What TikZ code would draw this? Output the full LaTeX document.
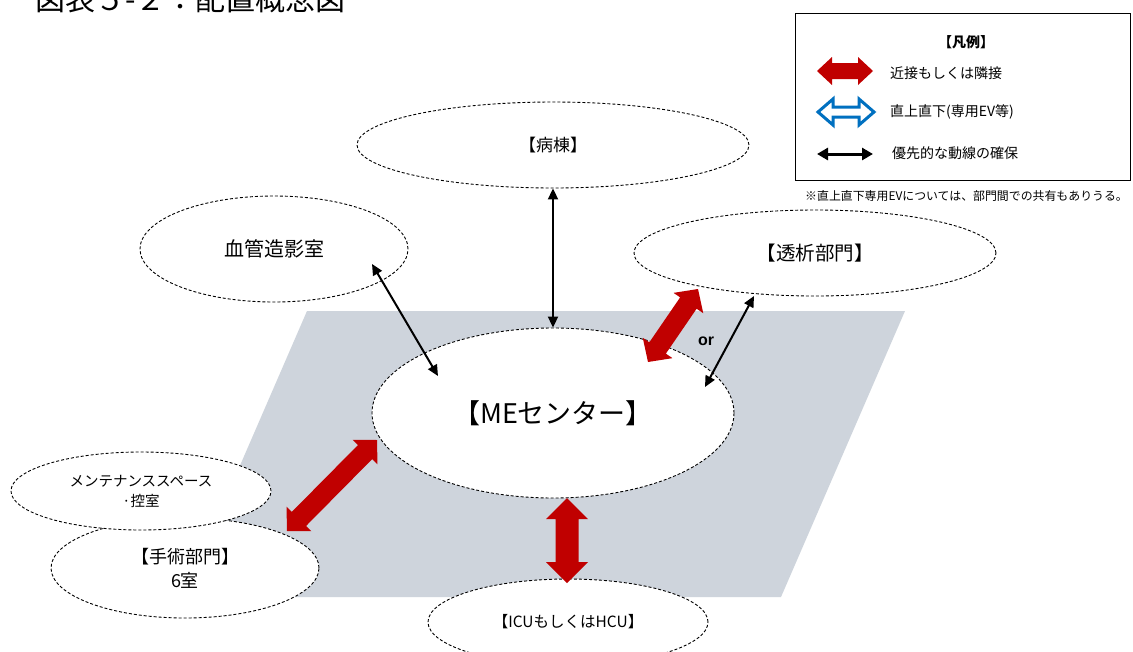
\documentclass[tikz,border=0pt]{standalone}
\usepackage{fontspec}
\setmainfont{Noto Sans CJK JP}
\newfontfamily\arialfont{Liberation Sans}
\usetikzlibrary{shapes.geometric,arrows.meta,calc}
\definecolor{mered}{RGB}{192,0,0}
\definecolor{plane}{RGB}{206,212,220}
\definecolor{evblue}{RGB}{0,112,192}
\newcommand\fsz[1]{\fontsize{#1}{#1}\selectfont}
% block double arrow: style, A, B, head length, head half width, shaft half width
\newcommand\blkarrow[6]{%
  \coordinate (ba-h1) at ($(#2)!#4!(#3)$);
  \coordinate (ba-h2) at ($(#3)!#4!(#2)$);
  \path[#1] (#2) -- ($(ba-h1)!#5!90:(#3)$) -- ($(ba-h1)!#6!90:(#3)$)
    -- ($(ba-h2)!#6!90:(#3)$) -- ($(ba-h2)!#5!90:(#3)$) -- (#3)
    -- ($(ba-h2)!#5!-90:(#3)$) -- ($(ba-h2)!#6!-90:(#3)$)
    -- ($(ba-h1)!#6!-90:(#3)$) -- ($(ba-h1)!#5!-90:(#3)$) -- cycle;
}
\tikzset{
  ell/.style={ellipse, draw, dash pattern=on 3pt off 2pt, line width=0.9pt, fill=white, inner sep=0pt, align=center},
  link/.style={line width=2pt, {Triangle[length=11pt,width=10pt]}-{Triangle[length=11pt,width=10pt]}},
  leglink/.style={line width=3pt, {Triangle[length=11pt,width=12pt]}-{Triangle[length=11pt,width=12pt]}},
  redblk/.style={fill=mered},
  blueblk/.style={draw=evblue, line width=3pt, fill=white, line join=miter},
  legtext/.style={anchor=west, font=\fsz{14}, inner sep=0pt}
}
\begin{document}
\begin{tikzpicture}[x=1pt, y=-1pt]
\useasboundingbox (0,0) rectangle (1133,651);
\fill[white] (0,0) rectangle (1133,651);

% title (cut at the top edge, as in the reference)
\node[anchor=base west, font=\fsz{30}, inner sep=0pt] (title) at (35,10) {図表５-２：配置概念図};

% floor plane
\fill[plane] (307,311) -- (905,311) -- (781,597) -- (183,597) -- cycle;

% ellipses
\node[ell, minimum width=392pt, minimum height=86pt, font=\fsz{17}] (bt) at (553,145) {【病棟】};
\node[ell, minimum width=268pt, minimum height=106pt, font=\fsz{20}] (angio) at (274,249) {血管造影室};
\node[ell, minimum width=362pt, minimum height=86pt, font=\fsz{19.5}] (dial) at (815,253) {【透析部門】};
\node[ell, minimum width=362pt, minimum height=170pt, font=\fsz{27}] (me) at (553,413) {【MEセンター】};
\node[ell, minimum width=268pt, minimum height=100pt, font=\fontsize{18}{24}\selectfont] (ope) at (185,568) {【手術部門】\\6室};
\node[ell, minimum width=260pt, minimum height=78pt, font=\fontsize{14.5}{20}\selectfont] (mnt) at (141,491) {メンテナンススペース\\·控室};
\node[ell, minimum width=280pt, minimum height=86pt, font=\fsz{15.5}] (icu) at (568,622) {【ICUもしくはHCU】};

% black connectors
\coordinate (angioE) at (372,264);
\coordinate (meAngio) at (438,376);
\coordinate (dialE) at (754,296);
\coordinate (meDial) at (705,387);
\draw[link] (bt.south) -- (me.north);
\draw[link] (angioE) -- (meAngio);
\draw[link] (dialE) -- (meDial);

% red block connectors
\coordinate (dialR) at (698,289);
\coordinate (meDialR) at (648,362);
\coordinate (meOpe) at (377,440);
\coordinate (opeR) at (287,531);
\coordinate (meIcu) at (567,498);
\coordinate (icuR) at (567,583);
\blkarrow{redblk}{meDialR}{dialR}{17pt}{18pt}{10pt}
\blkarrow{redblk}{meOpe}{opeR}{17pt}{17.5pt}{10pt}
\blkarrow{redblk}{meIcu}{icuR}{21pt}{21pt}{11.5pt}

\node[font=\arialfont\bfseries\fsz{16}] (or) at (706,341) {or};

% legend
\node[draw, line width=1pt, minimum width=335pt, minimum height=167pt, anchor=north west, inner sep=0pt] (legend) at (795,13) {};
\node[font=\bfseries\fsz{14}] (legtitle) at (966,42) {【凡例】};
\coordinate (l1a) at (817,71);
\coordinate (l1b) at (873,71);
\blkarrow{redblk}{l1a}{l1b}{15pt}{14pt}{8pt}
\coordinate (l2a) at (818,112);
\coordinate (l2b) at (874,112);
\blkarrow{blueblk}{l2a}{l2b}{15pt}{13pt}{5pt}
\coordinate (l3a) at (817,154);
\coordinate (l3b) at (873,154);
\draw[leglink] (l3a) -- (l3b);
\node[legtext] (t1) at (890,73) {近接もしくは隣接};
\node[legtext] (t2) at (890,112) {直上直下(専用EV等)};
\node[legtext] (t3) at (892,153) {優先的な動線の確保};
\node[anchor=west, font=\fsz{11.9}, inner sep=0pt] (note) at (805,196) {※直上直下専用EVについては、部門間での共有もありうる。};
\end{tikzpicture}
\end{document}
